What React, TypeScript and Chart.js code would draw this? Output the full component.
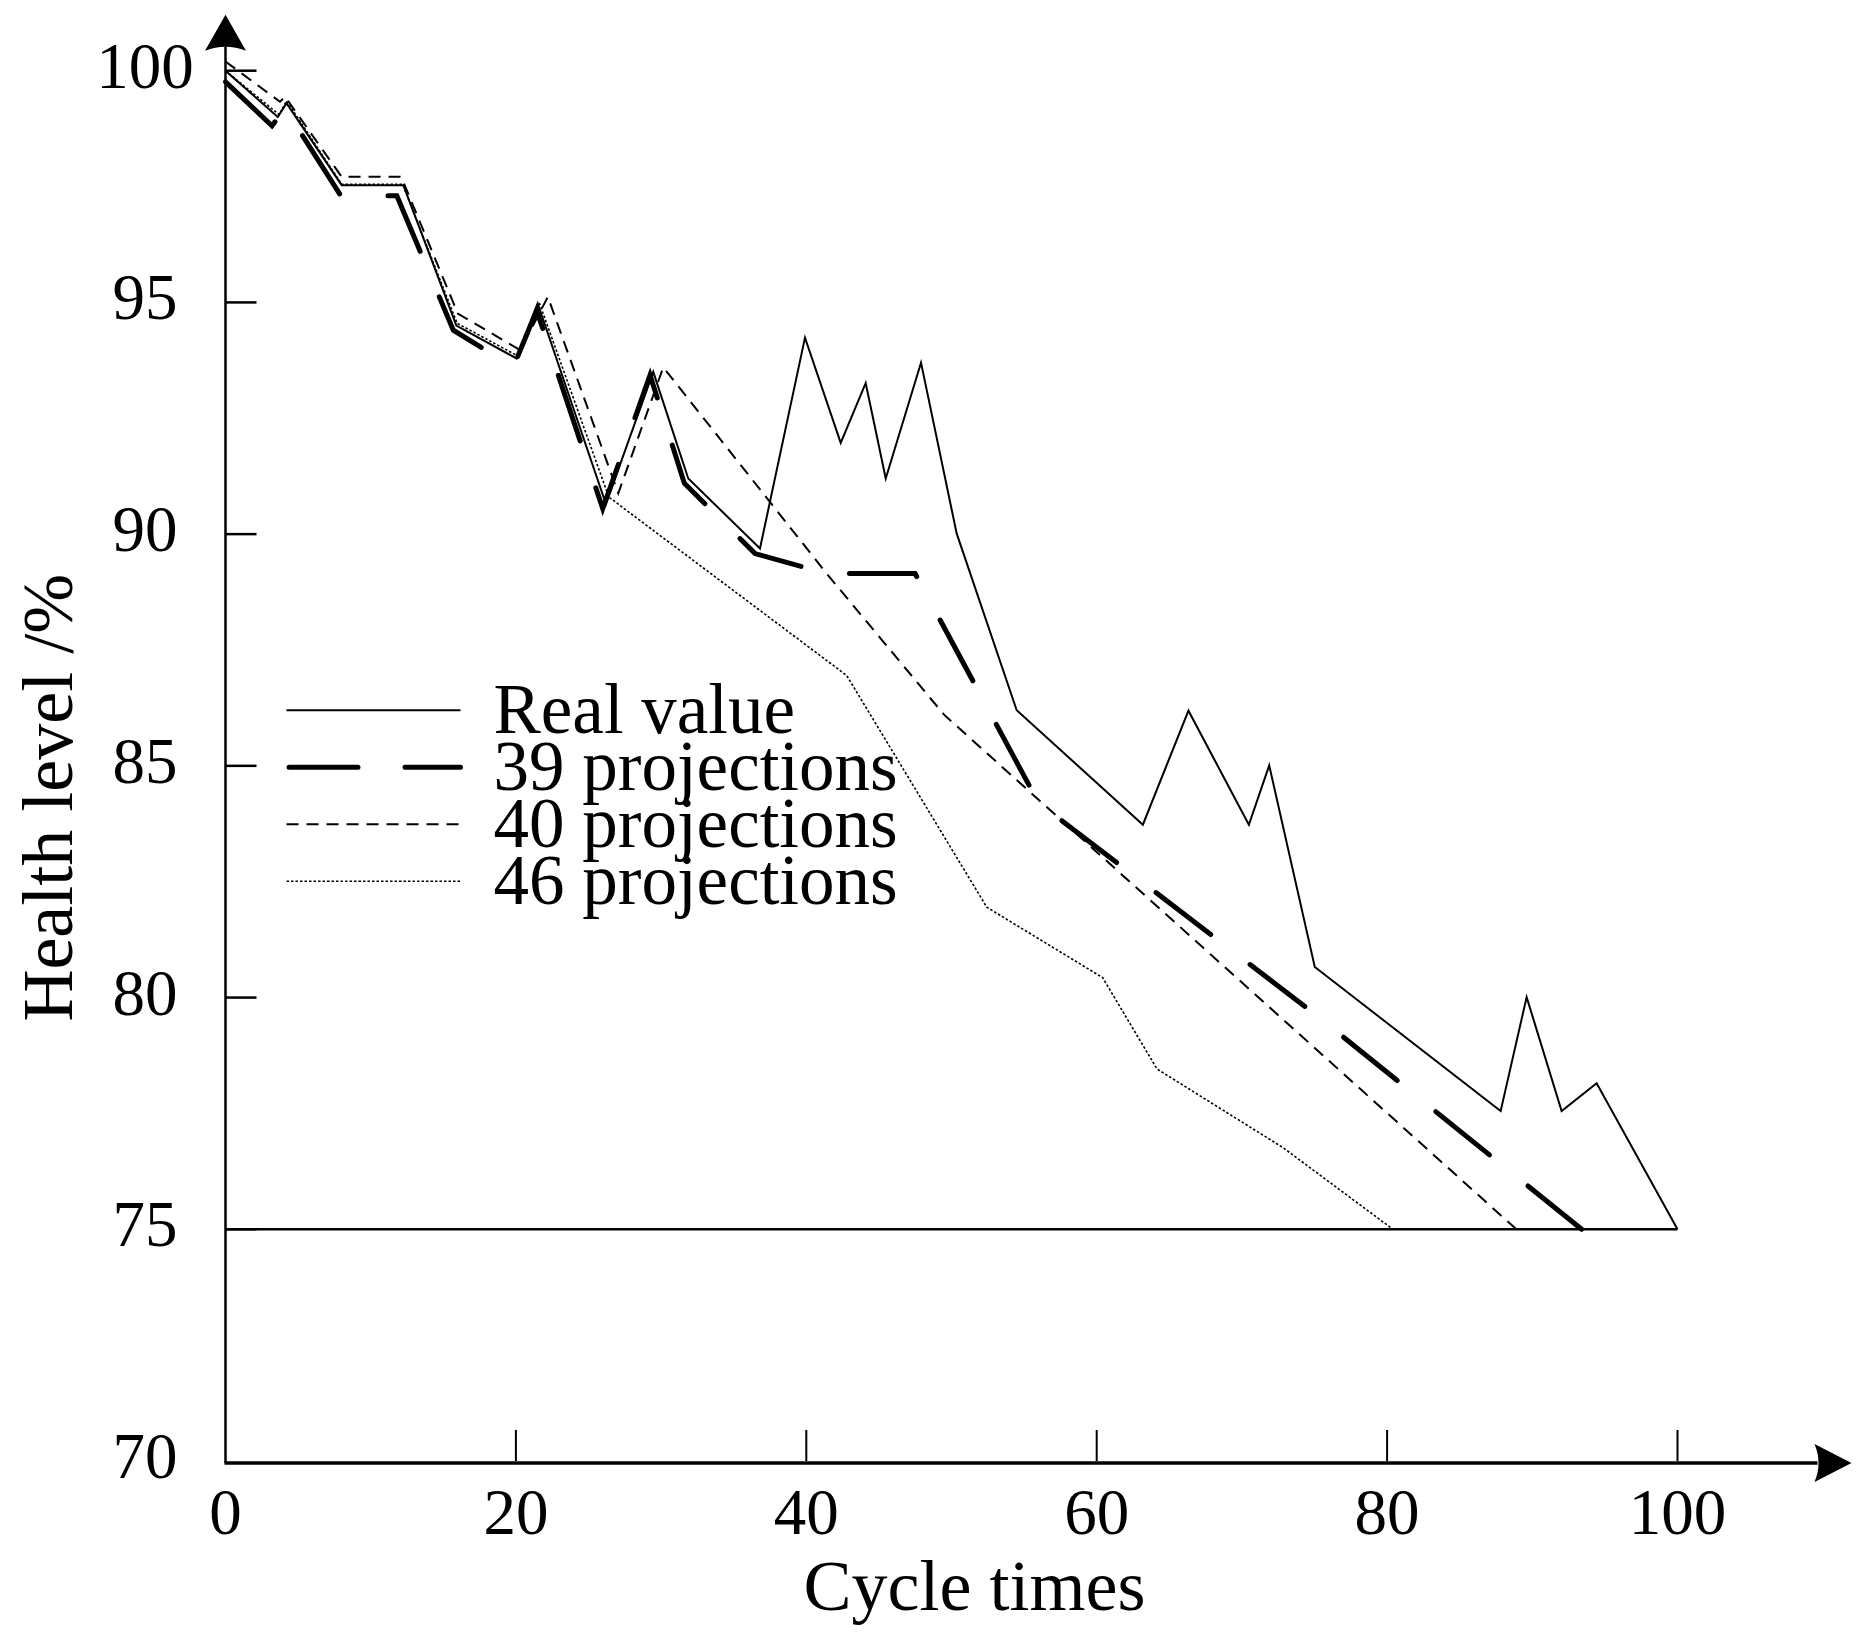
import React, { useEffect, useRef } from 'react';
import { Chart, registerables, Plugin } from 'chart.js';

Chart.register(...registerables);

// cycle times (x) and health level in % (y)
const realCycles = [0, 3.6, 4.2, 8.0, 12.25, 15.9, 20.05, 21.5, 26.2, 29.46, 31.87, 36.81, 39.91, 42.37, 44.09, 45.47, 47.9, 50.36, 54.49, 63.18, 66.32, 70.48, 71.88, 75.02, 87.82, 89.61, 92.02, 94.43, 100];
const realHealth = [100.0, 99.0, 99.3, 97.53, 97.53, 94.5, 93.79, 94.98, 90.65, 93.5, 91.2, 89.69, 94.24, 91.97, 93.26, 91.2, 93.7, 90.01, 86.2, 83.73, 86.19, 83.73, 85.01, 80.66, 77.55, 80.01, 77.55, 78.15, 75.0];

const cycles39 = [0, 3.2, 4.1, 7.95, 11.8, 15.69, 19.82, 21.43, 25.98, 29.24, 31.6, 36.47, 41.4, 47.49, 56.0, 75.0, 93.4];
const health39 = [99.76, 98.81, 99.19, 97.3, 97.3, 94.4, 93.6, 94.83, 90.55, 93.43, 91.1, 89.58, 89.15, 89.15, 84.2, 79.65, 75.0];

const cycles40 = [0, 3.75, 4.1, 8.0, 12.1, 16.0, 20.3, 22.2, 27.05, 30.15, 41.4, 49.5, 88.9];
const health40 = [100.2, 99.33, 99.44, 97.71, 97.71, 94.76, 93.97, 95.12, 90.88, 93.6, 89.15, 86.1, 75.0];

const cycles46 = [0, 3.7, 4.2, 8.0, 12.2, 15.95, 20.1, 21.6, 26.4, 42.78, 52.43, 60.41, 64.15, 72.84, 80.4];
const health46 = [100.0, 99.05, 99.35, 97.55, 97.55, 94.55, 93.85, 95.0, 90.8, 86.95, 81.95, 80.43, 78.46, 76.76, 75.0];

const limitCycles = [0, 100];
const limitHealth = [75, 75];

const xTicks = [0, 20, 40, 60, 80, 100];
const yTicks = [70, 75, 80, 85, 90, 95, 100];

const legendLabels = ['Real value', '39 projections', '40 projections', '46 projections'];

const FONT = '"Liberation Serif", "Times New Roman", serif';
const LONG_DASH = [69, 47];

const toPoints = (xs: number[], ys: number[]) => xs.map((x, i) => ({ x, y: ys[i] }));

// stretch the long-dash gap a little so the line starts and ends on a dash
const dashPhasePlugin: Plugin<'line'> = {
  id: 'dashPhase',
  afterLayout(chart) {
    const xs = chart.scales.x;
    const ys = chart.scales.y;
    const ds: any = chart.data.datasets[1];
    const pts = (ds.data as { x: number; y: number }[]).map((p) => [xs.getPixelForValue(p.x), ys.getPixelForValue(p.y)]);
    let len = 0;
    for (let i = 1; i < pts.length; i++) {
      len += Math.hypot(pts[i][0] - pts[i - 1][0], pts[i][1] - pts[i - 1][1]);
    }
    const on = LONG_DASH[0];
    const n = Math.max(1, Math.round((len - on) / (LONG_DASH[0] + LONG_DASH[1])));
    const period = (len - on) / n;
    ds.borderDash = [on, period - on];
    ds.borderDashOffset = 0;
  },
};

// axes with arrows, inward ticks, axis titles and the legend box
const decorPlugin: Plugin<'line'> = {
  id: 'decor',
  afterDraw(chart) {
    const { ctx, chartArea } = chart;
    const xs = chart.scales.x;
    const ys = chart.scales.y;
    const x0 = xs.getPixelForValue(0);
    const yb = ys.getPixelForValue(70);
    ctx.save();
    ctx.strokeStyle = '#000';
    ctx.fillStyle = '#000';
    ctx.setLineDash([]);
    ctx.lineCap = 'butt';

    // y axis + arrow
    ctx.lineWidth = 2.5;
    ctx.beginPath();
    ctx.moveTo(x0, yb + 2);
    ctx.lineTo(x0, chartArea.top - 24);
    ctx.stroke();
    const tipY = chartArea.top - 56;
    ctx.beginPath();
    ctx.moveTo(x0, tipY);
    ctx.lineTo(x0 + 20.5, tipY + 36);
    ctx.quadraticCurveTo(x0, tipY + 28, x0 - 20.5, tipY + 36);
    ctx.closePath();
    ctx.fill();

    // x axis + arrow
    ctx.lineWidth = 3.5;
    ctx.beginPath();
    ctx.moveTo(x0 - 1, yb + 2);
    ctx.lineTo(chartArea.right + 140, yb + 2);
    ctx.stroke();
    const tipX = chartArea.right + 174;
    ctx.beginPath();
    ctx.moveTo(tipX, yb + 2);
    ctx.lineTo(tipX - 37, yb + 2 - 19);
    ctx.quadraticCurveTo(tipX - 29, yb + 2, tipX - 37, yb + 2 + 19);
    ctx.closePath();
    ctx.fill();

    // inward tick marks
    ctx.lineWidth = 2.5;
    yTicks.filter((v) => v !== 70).forEach((v) => {
      const py = ys.getPixelForValue(v);
      ctx.beginPath();
      ctx.moveTo(x0, py);
      ctx.lineTo(x0 + 31, py);
      ctx.stroke();
    });
    ctx.lineWidth = 2;
    xTicks.filter((v) => v !== 0).forEach((v) => {
      const px = xs.getPixelForValue(v);
      ctx.beginPath();
      ctx.moveTo(px, yb);
      ctx.lineTo(px, yb - 31);
      ctx.stroke();
    });

    // axis titles
    ctx.font = `72px ${FONT}`;
    ctx.textBaseline = 'alphabetic';
    ctx.textAlign = 'center';
    ctx.fillText('Cycle times', (chartArea.left + chartArea.right) / 2 + 23, chartArea.bottom + 149);
    ctx.save();
    ctx.translate(chartArea.left - 153.5, chartArea.top + 727);
    ctx.rotate(-Math.PI / 2);
    ctx.fillText('Health level /%', 0, 0);
    ctx.restore();

    // legend
    const lx = chartArea.left + 61;
    const lineLen = 174;
    const rowTop = chartArea.top + 639.5;
    const rowGap = 57;
    ctx.font = `71px ${FONT}`;
    ctx.textAlign = 'left';
    chart.data.datasets.slice(0, 4).forEach((ds: any, i) => {
      const ry = rowTop + i * rowGap;
      ctx.lineWidth = ds.borderWidth;
      ctx.setLineDash(i === 1 ? LONG_DASH : ds.borderDash || []);
      ctx.lineDashOffset = 0;
      ctx.lineCap = ds.borderCapStyle || 'butt';
      ctx.beginPath();
      ctx.moveTo(lx + (ds.borderCapStyle === 'round' ? 2.5 : 0), ry);
      ctx.lineTo(lx + lineLen, ry);
      ctx.stroke();
      ctx.setLineDash([]);
      ctx.fillText(legendLabels[i], lx + 207, ry + 23);
    });
    ctx.restore();
  },
};

export default function App() {
  const canvasRef = useRef<HTMLCanvasElement | null>(null);
  const chartRef = useRef<Chart | null>(null);

  useEffect(() => {
    document.body.style.margin = '0';
    if (!canvasRef.current) return;
    if (chartRef.current) chartRef.current.destroy();

    chartRef.current = new Chart(canvasRef.current, {
      type: 'line',
      data: {
        datasets: [
          {
            label: legendLabels[0],
            data: toPoints(realCycles, realHealth),
            borderColor: '#000',
            borderWidth: 2,
            pointRadius: 0,
            clip: false,
          },
          {
            label: legendLabels[1],
            data: toPoints(cycles39, health39),
            borderColor: '#000',
            borderWidth: 5,
            borderDash: LONG_DASH,
            borderCapStyle: 'round',
            pointRadius: 0,
            clip: false,
          },
          {
            label: legendLabels[2],
            data: toPoints(cycles40, health40),
            borderColor: '#000',
            borderWidth: 2,
            borderDash: [12, 8],
            pointRadius: 0,
            clip: false,
          },
          {
            label: legendLabels[3],
            data: toPoints(cycles46, health46),
            borderColor: '#000',
            borderWidth: 1.6,
            borderDash: [2.5, 2],
            pointRadius: 0,
            clip: false,
          },
          {
            label: 'threshold',
            data: toPoints(limitCycles, limitHealth),
            borderColor: '#000',
            borderWidth: 2.5,
            pointRadius: 0,
            clip: false,
          },
        ],
      },
      options: {
        animation: false,
        responsive: true,
        maintainAspectRatio: false,
        devicePixelRatio: 1,
        events: [],
        layout: { padding: { top: 70.7, right: 189.5, left: 0, bottom: 0 } },
        plugins: {
          legend: { display: false },
          tooltip: { enabled: false },
        },
        elements: { line: { tension: 0, fill: false } },
        scales: {
          x: {
            type: 'linear',
            min: 0,
            max: 100,
            grid: { display: false, drawTicks: false },
            border: { display: false },
            afterBuildTicks: (axis: any) => {
              axis.ticks = xTicks.map((v) => ({ value: v }));
            },
            afterFit: (axis: any) => {
              axis.height = 176;
            },
            ticks: {
              color: '#000',
              font: { family: FONT, size: 65 },
              padding: 16.5,
              maxRotation: 0,
              autoSkip: false,
            },
          },
          y: {
            type: 'linear',
            min: 70,
            max: 100,
            grid: { display: false, drawTicks: false },
            border: { display: false },
            afterBuildTicks: (axis: any) => {
              axis.ticks = yTicks.map((v) => ({ value: v }));
            },
            afterFit: (axis: any) => {
              axis.width = 225.5;
            },
            ticks: {
              color: '#000',
              font: { family: FONT, size: 65, lineHeight: 1 },
              padding: 31.75,
              crossAlign: 'center',
              autoSkip: false,
            },
          },
        },
      },
      plugins: [dashPhasePlugin, decorPlugin],
    });

    return () => {
      if (chartRef.current) {
        chartRef.current.destroy();
        chartRef.current = null;
      }
    };
  }, []);

  return (
    <div style={{ position: 'relative', width: 1867, height: 1637, background: '#fff', overflow: 'hidden' }}>
      <canvas ref={canvasRef} />
    </div>
  );
}
